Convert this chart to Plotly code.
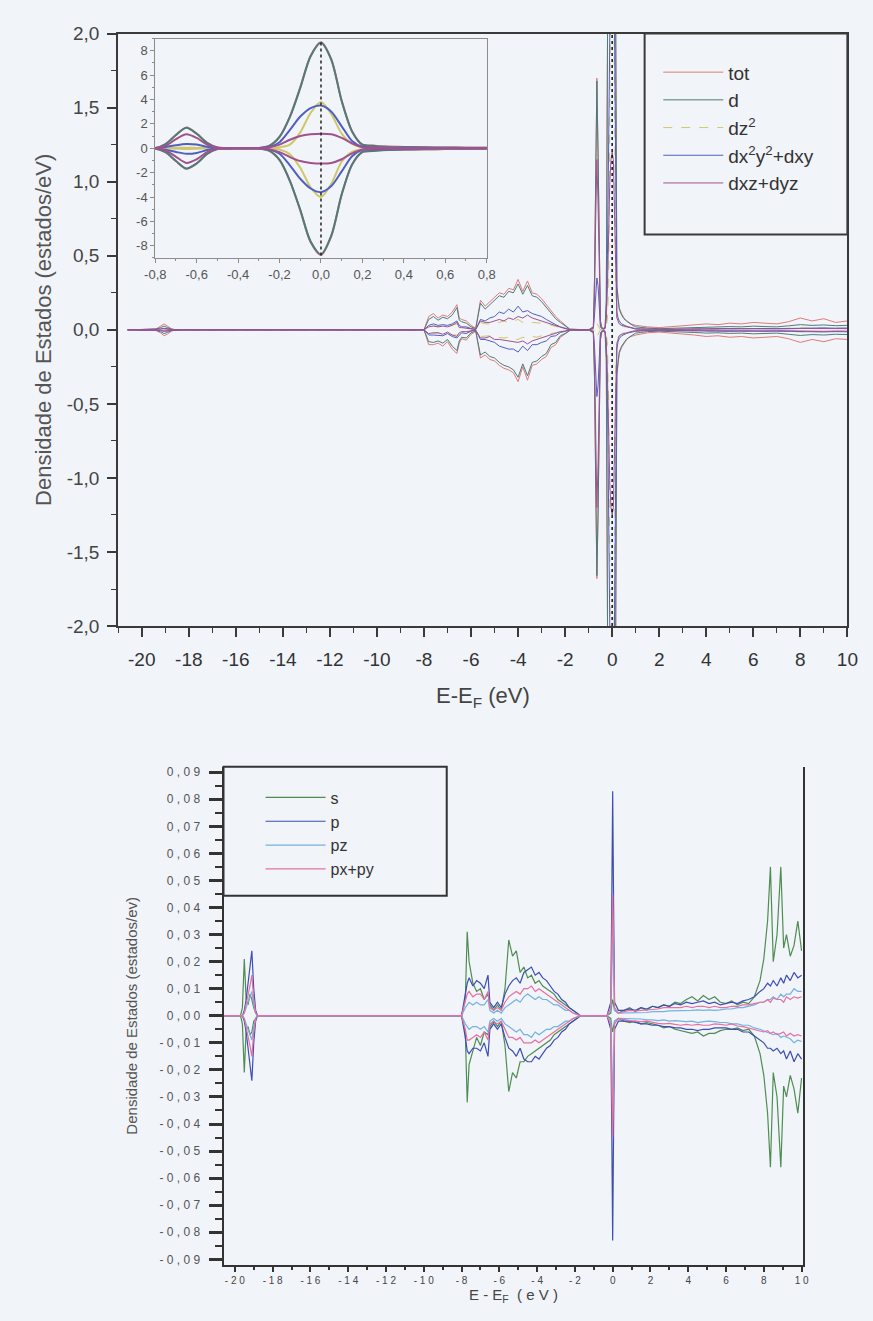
import plotly.graph_objects as go

# ---------------- TOP PANEL DATA (d-projected DOS, spin up > 0, spin down < 0) ----------------
E_top = [-20.6, -19.4, -19.2, -19.05, -18.9, -18.75, -18.6, -18.4, -8.0,
         -7.8, -7.6, -7.4, -7.2, -7.0, -6.8, -6.6, -6.5, -6.4, -6.2, -6.0, -5.8, -5.6, -5.4, -5.2, -5.0,
         -4.8, -4.6, -4.4, -4.2, -4.0, -3.8, -3.6, -3.4, -3.2, -3.0, -2.8, -2.6, -2.4, -2.2, -2.0, -1.8,
         -1.0, -0.8, -0.75, -0.7, -0.65, -0.6, -0.55, -0.5, -0.45, -0.4, -0.35, -0.3, -0.25, -0.2, -0.15,
         -0.1, -0.05, 0.0, 0.05, 0.1, 0.15, 0.2, 0.25, 0.3, 0.4, 0.5, 0.6, 0.7, 0.8,
         1.0, 1.2, 1.5, 2.0, 2.5, 3.0, 3.5, 4.0, 4.5, 5.0, 5.5, 6.0, 6.5, 7.0, 7.5, 8.0, 8.5, 9.0, 9.5, 10.0]

tot_up = [0, .005, .025, .04, .025, .008, .002, 0, 0,
          .09, .11, .08, .10, .09, .12, .17, .08, .07, .06, .03, .01, .20, .16, .19, .22, .25, .24, .28, .27, .34, .26, .33, .25, .24, .21, .17, .13, .09, .06, .03, .005,
          0, .02, .35, 1.1, 1.7, 1.2, .45, .06, .02, .01, .01, .02, .2, .95, 2.6, 5.0, 7.6, 8.7, 7.3, 3.9, 1.4, .3, .22, .15, .11, .08, .065, .05, .04,
          .03, .025, .02, .015, .02, .025, .03, .04, .035, .045, .04, .05, .045, .04, .055, .08, .06, .075, .05, .06]
tot_dn = [0, -.004, -.02, -.04, -.028, -.01, -.002, 0, 0,
          -.10, -.10, -.09, -.11, -.08, -.13, -.16, -.09, -.06, -.07, -.03, -.01, -.19, -.17, -.20, -.21, -.24, -.26, -.27, -.29, -.35, -.25, -.34, -.24, -.23, -.20, -.18, -.12, -.10, -.05, -.03, -.005,
          0, -.02, -.33, -1.05, -1.68, -1.25, -.47, -.07, -.02, -.01, -.01, -.02, -.21, -.98, -2.7, -5.1, -7.7, -8.75, -7.2, -3.8, -1.35, -.31, -.23, -.16, -.12, -.09, -.07, -.055, -.045,
          -.035, -.03, -.02, -.015, -.02, -.03, -.035, -.045, -.04, -.05, -.045, -.055, -.05, -.045, -.06, -.085, -.065, -.08, -.06, -.065]

d_up = [0, .003, .015, .025, .015, .005, .001, 0, 0,
        .07, .09, .065, .085, .075, .10, .15, .065, .055, .045, .02, .008, .18, .14, .17, .20, .23, .22, .26, .25, .31, .24, .30, .23, .22, .19, .15, .11, .075, .05, .025, .004,
        0, .02, .345, 1.09, 1.68, 1.19, .445, .06, .02, .01, .01, .02, .19, .93, 2.57, 4.95, 7.55, 8.65, 7.25, 3.87, 1.38, .29, .21, .14, .1, .075, .06, .047, .037,
        .02, .015, .012, .008, .01, .013, .016, .02, .018, .022, .02, .025, .022, .02, .027, .035, .03, .033, .028, .03]
d_dn = [0, -.003, -.013, -.025, -.017, -.006, -.001, 0, 0,
        -.08, -.085, -.075, -.09, -.065, -.11, -.14, -.075, -.05, -.055, -.02, -.008, -.17, -.15, -.18, -.19, -.22, -.24, -.25, -.27, -.32, -.23, -.31, -.22, -.21, -.18, -.16, -.10, -.085, -.04, -.025, -.004,
        0, -.02, -.325, -1.04, -1.66, -1.24, -.465, -.068, -.02, -.01, -.01, -.02, -.2, -.96, -2.67, -5.05, -7.65, -8.7, -7.15, -3.77, -1.33, -.3, -.22, -.15, -.11, -.085, -.065, -.052, -.042,
        -.022, -.018, -.012, -.009, -.011, -.015, -.018, -.022, -.02, -.024, -.022, -.027, -.024, -.022, -.03, -.038, -.032, -.035, -.03, -.032]

dz2_up = [0, 0, .002, .004, .002, .001, 0, 0, 0,
          .02, .03, .02, .03, .025, .03, .04, .02, .02, .015, .01, .003, .05, .04, .04, .05, .05, .06, .05, .06, .07, .05, .06, .05, .05, .045, .04, .03, .02, .015, .008, .001,
          0, 0, .01, .03, .05, .03, .01, 0, 0, 0, 0, 0, .02, .08, .3, 1.3, 2.9, 3.8, 2.8, 1.2, .35, .08, .05, .04, .03, .02, .02, .015, .012,
          .008, .006, .004, .003, .004, .005, .006, .008, .007, .009, .008, .01, .009, .008, .011, .013, .011, .012, .01, .011]
dz2_dn = [0, 0, -.002, -.004, -.002, -.001, 0, 0, 0,
          -.025, -.025, -.02, -.03, -.02, -.035, -.035, -.025, -.015, -.02, -.01, -.003, -.045, -.045, -.04, -.05, -.055, -.055, -.05, -.065, -.065, -.05, -.06, -.045, -.05, -.04, -.04, -.025, -.02, -.012, -.008, -.001,
          0, 0, -.01, -.03, -.05, -.03, -.01, 0, 0, 0, 0, 0, -.02, -.1, -.5, -1.6, -3.2, -4.0, -2.9, -1.1, -.3, -.08, -.05, -.04, -.03, -.02, -.02, -.015, -.012,
          -.009, -.007, -.004, -.003, -.004, -.006, -.007, -.009, -.008, -.01, -.009, -.011, -.01, -.009, -.012, -.014, -.012, -.013, -.011, -.012]

dx2_up = [0, .001, .006, .01, .006, .002, 0, 0, 0,
          .03, .04, .03, .035, .03, .04, .06, .03, .02, .02, .008, .003, .07, .06, .08, .09, .12, .11, .14, .12, .16, .12, .13, .11, .10, .09, .07, .05, .035, .02, .01, .002,
          0, .01, .1, .25, .35, .3, .12, .02, .01, .005, .005, .01, .1, .5, 1.5, 2.6, 3.3, 3.5, 3.0, 1.8, .6, .12, .08, .06, .04, .03, .025, .02, .015,
          .008, .006, .005, .003, .004, .005, .007, .008, .007, .009, .008, .01, .009, .008, .01, .014, .012, .013, .011, .012]
dx2_dn = [0, -.001, -.005, -.01, -.007, -.002, 0, 0, 0,
          -.035, -.035, -.035, -.04, -.025, -.045, -.055, -.035, -.02, -.025, -.008, -.003, -.065, -.065, -.075, -.085, -.11, -.12, -.13, -.13, -.15, -.11, -.14, -.10, -.10, -.085, -.075, -.045, -.04, -.018, -.01, -.002,
          0, -.01, -.12, -.3, -.45, -.38, -.15, -.02, -.01, -.005, -.005, -.01, -.1, -.45, -1.4, -2.5, -3.3, -3.6, -3.1, -1.9, -.65, -.13, -.08, -.06, -.04, -.03, -.025, -.02, -.015,
          -.009, -.007, -.005, -.003, -.004, -.006, -.008, -.009, -.008, -.01, -.009, -.011, -.01, -.009, -.011, -.015, -.013, -.014, -.012, -.013]

dxz_up = [0, .001, .005, .008, .005, .001, 0, 0, 0,
          .02, .025, .02, .025, .02, .03, .05, .015, .015, .01, .005, .002, .06, .05, .05, .06, .07, .06, .08, .07, .09, .08, .10, .08, .07, .06, .05, .035, .025, .015, .008, .001,
          0, .01, .2, .75, 1.15, .85, .3, .04, .01, .005, .005, .01, .08, .3, .7, 1.0, 1.15, 1.2, 1.15, .85, .4, .08, .06, .04, .03, .025, .02, .015, .012,
          .005, .004, .003, .002, .003, .004, .005, .006, .005, .006, .005, .007, .006, .005, .007, .009, .008, .009, .007, .008]
dxz_dn = [0, -.001, -.004, -.008, -.006, -.002, 0, 0, 0,
          -.025, -.02, -.02, -.03, -.015, -.035, -.045, -.02, -.012, -.012, -.005, -.002, -.055, -.055, -.045, -.065, -.065, -.07, -.075, -.075, -.085, -.075, -.095, -.075, -.065, -.055, -.045, -.03, -.025, -.012, -.008, -.001,
          0, -.01, -.18, -.7, -1.2, -.9, -.32, -.04, -.01, -.005, -.005, -.01, -.08, -.32, -.72, -1.05, -1.2, -1.25, -1.2, -.9, -.42, -.09, -.06, -.04, -.03, -.025, -.02, -.015, -.012,
          -.006, -.005, -.003, -.002, -.003, -.005, -.006, -.007, -.006, -.007, -.006, -.008, -.007, -.006, -.008, -.01, -.009, -.01, -.008, -.009]

top_names = ["tot", "d", "dz<sup>2</sup>", "dx<sup>2</sup>y<sup>2</sup>+dxy", "dxz+dyz"]
top_colors = ["#e07a7a", "#4f7b78", "#cfc86a", "#4f5fc4", "#a0528e"]
top_up = [tot_up, d_up, dz2_up, dx2_up, dxz_up]
top_dn = [tot_dn, d_dn, dz2_dn, dx2_dn, dxz_dn]

# ---------------- BOTTOM PANEL DATA (s / p projected DOS) ----------------
E_bot = [-20.6, -19.7, -19.6, -19.5, -19.4, -19.3, -19.2, -19.1, -19.0, -18.9, -18.8, -8.0,
         -7.8, -7.7, -7.6, -7.4, -7.2, -7.0, -6.8, -6.6, -6.5, -6.3, -6.1, -5.9, -5.7, -5.5, -5.3, -5.1,
         -4.9, -4.7, -4.5, -4.3, -4.1, -3.9, -3.7, -3.5, -3.3, -3.1, -2.9, -2.7, -2.5, -2.3, -2.1, -1.9, -1.7,
         -0.3, -0.1, -0.05, 0.0, 0.05, 0.1, 0.3,
         0.6, 0.9, 1.2, 1.5, 1.8, 2.1, 2.4, 2.7, 3.0, 3.3, 3.6, 3.9, 4.2, 4.5, 4.8, 5.1, 5.4, 5.7, 6.0, 6.3,
         6.6, 6.9, 7.2, 7.5, 7.8, 8.0, 8.2, 8.35, 8.5, 8.7, 8.9, 9.05, 9.2, 9.4, 9.6, 9.8, 10.0]

s_up = [0, 0, .003, .021, .006, .004, .008, .006, .003, .001, 0, 0,
        .006, .031, .02, .012, .009, .01, .006, .008, .004, .002, .004, .002, .01, .028, .022, .024, .016, .018, .014, .015, .012, .013, .011, .01, .009, .008, .006, .005, .004, .003, .002, .001, 0,
        0, .001, .004, .006, .004, .002, .001,
        .002, .003, .0015, .003, .002, .0035, .003, .004, .0035, .005, .0045, .006, .007, .0055, .0075, .006, .007, .005, .0045, .0055,
        .004, .005, .0045, .007, .013, .021, .035, .055, .02, .03, .055, .025, .03, .022, .026, .035, .024]
s_dn = [0, 0, -.003, -.021, -.005, -.004, -.007, -.006, -.002, -.001, 0, 0,
        -.006, -.032, -.018, -.013, -.008, -.011, -.006, -.007, -.004, -.002, -.004, -.002, -.011, -.028, -.021, -.023, -.017, -.017, -.015, -.014, -.013, -.012, -.011, -.01, -.009, -.007, -.006, -.005, -.004, -.003, -.002, -.001, 0,
        0, -.001, -.004, -.006, -.004, -.002, -.001,
        -.002, -.0025, -.002, -.003, -.0025, -.003, -.0035, -.0045, -.004, -.005, -.0055, -.006, -.0065, -.006, -.0075, -.0065, -.0065, -.0055, -.005, -.005,
        -.0045, -.0055, -.005, -.0075, -.014, -.022, -.036, -.056, -.021, -.03, -.056, -.026, -.03, -.022, -.027, -.036, -.023]

p_up = [0, 0, 0, .002, .006, .012, .019, .024, .01, .002, 0, 0,
        .008, .012, .014, .011, .013, .012, .01, .015, .005, .003, .005, .003, .008, .011, .013, .014, .012, .016, .017, .018, .015, .016, .014, .013, .011, .009, .008, .006, .005, .003, .002, .001, 0,
        0, .005, .04, .083, .04, .005, .002,
        .002, .0025, .002, .003, .0025, .0035, .003, .004, .0035, .0045, .004, .005, .0045, .005, .0055, .0045, .005, .004, .0045, .005,
        .0045, .0055, .006, .007, .009, .01, .012, .011, .013, .011, .014, .012, .015, .013, .016, .014, .015]
p_dn = [0, 0, 0, -.002, -.006, -.012, -.019, -.024, -.01, -.002, 0, 0,
        -.008, -.013, -.014, -.012, -.012, -.013, -.01, -.015, -.005, -.003, -.005, -.003, -.008, -.012, -.013, -.015, -.012, -.016, -.017, -.017, -.015, -.016, -.014, -.012, -.011, -.009, -.008, -.006, -.005, -.003, -.002, -.001, 0,
        0, -.005, -.04, -.083, -.04, -.005, -.002,
        -.002, -.002, -.0025, -.003, -.003, -.0035, -.0035, -.004, -.004, -.0045, -.0045, -.005, -.005, -.0055, -.005, -.005, -.0045, -.0045, -.0045, -.005,
        -.005, -.006, -.006, -.0075, -.009, -.01, -.012, -.012, -.013, -.012, -.014, -.013, -.016, -.013, -.017, -.014, -.016]

pz_up = [0, 0, 0, .001, .003, .005, .007, .009, .004, .001, 0, 0,
         .003, .004, .005, .004, .005, .004, .004, .006, .002, .001, .002, .001, .003, .004, .005, .006, .005, .007, .008, .007, .006, .007, .006, .006, .005, .004, .004, .003, .002, .002, .001, .0005, 0,
         0, .002, .015, .035, .015, .002, .001,
         .001, .001, .001, .0012, .0012, .0015, .0015, .0015, .0018, .0018, .002, .002, .002, .0022, .002, .0022, .002, .0022, .0025, .0025,
         .003, .003, .0035, .004, .005, .005, .006, .006, .007, .006, .008, .007, .008, .008, .01, .009, .009]
pz_dn = [0, 0, 0, -.001, -.003, -.005, -.007, -.009, -.004, -.001, 0, 0,
         -.003, -.004, -.005, -.004, -.004, -.005, -.004, -.006, -.002, -.001, -.002, -.001, -.003, -.004, -.005, -.006, -.005, -.007, -.007, -.008, -.006, -.007, -.006, -.005, -.005, -.004, -.004, -.003, -.002, -.002, -.001, -.0005, 0,
         0, -.002, -.015, -.035, -.015, -.002, -.001,
         -.001, -.001, -.0012, -.0012, -.0015, -.0015, -.0018, -.0015, -.002, -.0018, -.002, -.0022, -.002, -.0025, -.0022, -.002, -.0022, -.0025, -.0025, -.003,
         -.003, -.0035, -.0035, -.0045, -.005, -.0055, -.006, -.0065, -.007, -.0065, -.008, -.0075, -.008, -.0085, -.01, -.009, -.0095]

pxpy_up = [0, 0, 0, .001, .004, .007, .011, .015, .006, .001, 0, 0,
           .005, .008, .009, .007, .008, .008, .006, .009, .003, .002, .003, .002, .005, .007, .008, .009, .008, .01, .01, .011, .009, .01, .009, .008, .007, .006, .005, .004, .003, .002, .001, .0005, 0,
           0, .003, .025, .045, .025, .003, .001,
           .0015, .002, .0018, .002, .0022, .0025, .0025, .003, .003, .0032, .003, .0035, .003, .0035, .0035, .003, .0035, .003, .003, .0035,
           .0035, .004, .004, .0045, .005, .005, .006, .005, .0065, .006, .006, .005, .007, .006, .007, .0065, .007]
pxpy_dn = [0, 0, 0, -.001, -.004, -.007, -.011, -.015, -.006, -.001, 0, 0,
           -.005, -.009, -.009, -.008, -.007, -.008, -.006, -.009, -.003, -.002, -.003, -.002, -.005, -.008, -.008, -.009, -.008, -.01, -.01, -.01, -.009, -.01, -.009, -.008, -.007, -.006, -.005, -.004, -.003, -.002, -.001, -.0005, 0,
           0, -.003, -.025, -.045, -.025, -.003, -.001,
           -.0015, -.0018, -.002, -.0022, -.002, -.0025, -.0028, -.003, -.0028, -.0032, -.0035, -.0032, -.0035, -.0032, -.0035, -.0035, -.003, -.0032, -.0035, -.003,
           -.0038, -.004, -.0045, -.005, -.0055, -.006, -.0055, -.0065, -.006, -.007, -.0065, -.006, -.0075, -.0065, -.0075, -.007, -.0075]

bot_names = ["s", "p", "pz", "px+py"]
bot_colors = ["#4f8c52", "#3c4db4", "#72b2e4", "#e8709e"]
bot_up = [s_up, p_up, pz_up, pxpy_up]
bot_dn = [s_dn, p_dn, pz_dn, pxpy_dn]

for arr in top_up + top_dn:
    assert len(arr) == len(E_top), len(arr)
for arr in bot_up + bot_dn:
    assert len(arr) == len(E_bot), len(arr)

# ---------------- TICKS ----------------
x1_ticks = list(range(-20, 11, 2))
x1_labels = [str(v) for v in x1_ticks]
y1_ticks = [-2.0, -1.5, -1.0, -0.5, 0.0, 0.5, 1.0, 1.5, 2.0]
y1_labels = ["-2,0", "-1,5", "-1,0", "-0,5", "0,0", "0,5", "1,0", "1,5", "2,0"]
x2_ticks = [-0.8, -0.6, -0.4, -0.2, 0.0, 0.2, 0.4, 0.6, 0.8]
x2_labels = ["-0,8", "-0,6", "-0,4", "-0,2", "0,0", "0,2", "0,4", "0,6", "0,8"]
y2_ticks = [-8, -6, -4, -2, 0, 2, 4, 6, 8]
y2_labels = ["-8", "-6", "-4", "-2", "0", "2", "4", "6", "8"]
x3_ticks = list(range(-20, 11, 2))
x3_labels = ["- 2 0", "- 1 8", "- 1 6", "- 1 4", "- 1 2", "- 1 0", "- 8", "- 6", "- 4", "- 2",
             "0", "2", "4", "6", "8", "1 0"]
y3_ticks = [-0.09, -0.08, -0.07, -0.06, -0.05, -0.04, -0.03, -0.02, -0.01, 0.0,
            0.01, 0.02, 0.03, 0.04, 0.05, 0.06, 0.07, 0.08, 0.09]
y3_labels = ["- 0 , 0 9", "- 0 , 0 8", "- 0 , 0 7", "- 0 , 0 6", "- 0 , 0 5", "- 0 , 0 4",
             "- 0 , 0 3", "- 0 , 0 2", "- 0 , 0 1", "0 , 0 0", "0 , 0 1", "0 , 0 2", "0 , 0 3",
             "0 , 0 4", "0 , 0 5", "0 , 0 6", "0 , 0 7", "0 , 0 8", "0 , 0 9"]

FONT = "Liberation Sans, Arial, sans-serif"
BG = "#f1f4f9"
W, H = 873, 1321

def px(x):
    return x / W

def py(y):
    return 1 - y / H

fig = go.Figure()

# main top panel
for name, col, up, dn in zip(top_names, top_colors, top_up, top_dn):
    dash = "dash" if name.startswith("dz<") else "solid"
    fig.add_trace(go.Scatter(x=E_top, y=up, mode="lines", name=name, legend="legend",
                             legendgroup=name, line=dict(color=col, width=1, dash=dash),
                             xaxis="x", yaxis="y"))
    fig.add_trace(go.Scatter(x=E_top, y=dn, mode="lines", name=name, showlegend=False,
                             legendgroup=name, line=dict(color=col, width=1, dash=dash),
                             xaxis="x", yaxis="y"))

# inset (same data, zoomed near the Fermi level)
for name, col, up, dn in zip(top_names, top_colors, top_up, top_dn):
    for arr in (up, dn):
        fig.add_trace(go.Scatter(x=E_top, y=arr, mode="lines", showlegend=False,
                                 line=dict(color=col, width=2, shape="spline", smoothing=0.8),
                                 xaxis="x2", yaxis="y2"))

# bottom panel
for name, col, up, dn in zip(bot_names, bot_colors, bot_up, bot_dn):
    fig.add_trace(go.Scatter(x=E_bot, y=up, mode="lines", name=name, legend="legend2",
                             legendgroup=name, line=dict(color=col, width=1.2),
                             xaxis="x3", yaxis="y3"))
    fig.add_trace(go.Scatter(x=E_bot, y=dn, mode="lines", name=name, showlegend=False,
                             legendgroup=name, line=dict(color=col, width=1.2),
                             xaxis="x3", yaxis="y3"))

axis_common = dict(showgrid=False, zeroline=False, showline=True, ticks="outside", tickmode="array")

fig.update_layout(
    width=W, height=H, margin=dict(l=0, r=0, t=0, b=0),
    paper_bgcolor=BG, plot_bgcolor=BG,
    font=dict(family=FONT, color="#3a3a3a"),
    xaxis=dict(**axis_common, domain=[px(110), px(858)], anchor="y", range=[-21, 10],
               tickvals=x1_ticks, ticktext=x1_labels, linecolor="#3a3a3a", linewidth=2, mirror=True,
               ticklen=9, tickwidth=1.5, tickcolor="#3a3a3a", ticklabelstandoff=6,
               tickfont=dict(size=19, color="#333"),
               minor=dict(ticks="outside", ticklen=5, tickwidth=1.2, tickcolor="#3a3a3a", dtick=1, tick0=0)),
    yaxis=dict(**axis_common, domain=[py(626), py(24)], anchor="x", range=[-2, 2],
               tickvals=y1_ticks, ticktext=y1_labels, linecolor="#3a3a3a", linewidth=2, mirror=True,
               ticklen=9, tickwidth=1.5, tickcolor="#3a3a3a", ticklabelstandoff=4,
               tickfont=dict(size=19, color="#444"),
               minor=dict(ticks="outside", ticklen=5, tickwidth=1.2, tickcolor="#3a3a3a", dtick=0.25, tick0=0)),
    xaxis2=dict(**axis_common, domain=[px(148), px(488)], anchor="y2", range=[-0.8, 0.8],
                tickvals=x2_ticks, ticktext=x2_labels, linecolor="#8c8c8c", linewidth=1, mirror=True,
                ticklen=4, tickwidth=1, tickcolor="#8c8c8c", tickfont=dict(size=13, color="#555"),
                minor=dict(ticks="outside", ticklen=2, tickcolor="#8c8c8c", dtick=0.1, tick0=0)),
    yaxis2=dict(**axis_common, domain=[py(252), py(29)], anchor="x2", range=[-9, 9],
                tickvals=y2_ticks, ticktext=y2_labels, linecolor="#8c8c8c", linewidth=1, mirror=True,
                ticklen=4, tickwidth=1, tickcolor="#8c8c8c", tickfont=dict(size=13, color="#555"),
                minor=dict(ticks="outside", ticklen=2, tickcolor="#8c8c8c", dtick=1, tick0=0)),
    xaxis3=dict(**axis_common, domain=[px(218), px(812)], anchor="y3", range=[-20.6, 10.05],
                tickvals=x3_ticks, ticktext=x3_labels, linecolor="#333", linewidth=2,
                ticklen=5, tickwidth=1.5, tickcolor="#333", tickfont=dict(size=10, color="#444"),
                minor=dict(ticks="outside", ticklen=3, tickcolor="#333", dtick=1, tick0=0)),
    yaxis3=dict(**axis_common, domain=[py(1275), py(769)], anchor="x3", range=[-0.092, 0.092],
                tickvals=y3_ticks, ticktext=y3_labels, linecolor="#333", linewidth=2, mirror=True,
                ticklen=13, tickwidth=2.5, tickcolor="#333", ticklabelstandoff=6,
                tickfont=dict(size=12, color="#555"),
                minor=dict(ticks="outside", ticklen=7, tickwidth=2, tickcolor="#333", dtick=0.005, tick0=0)),
    legend=dict(x=px(664), y=py(44), xanchor="left", yanchor="top", bgcolor="rgba(0,0,0,0)",
                borderwidth=0, font=dict(size=19, color="#333"), itemwidth=60, tracegroupgap=0),
    legend2=dict(x=px(256), y=py(783), xanchor="left", yanchor="top", bgcolor="rgba(0,0,0,0)",
                 borderwidth=0, font=dict(size=16, color="#333"), itemwidth=60, tracegroupgap=0),
    shapes=[
        dict(type="rect", xref="paper", yref="paper", x0=px(650), x1=px(858), y0=py(228), y1=py(24),
             line=dict(color="#3a3a3a", width=2), fillcolor="rgba(0,0,0,0)", layer="above"),
        dict(type="line", xref="x", yref="y", x0=0, x1=0, y0=-2, y1=2,
             line=dict(color="#111", width=1.5, dash="dot"), layer="above"),
        dict(type="line", xref="x2", yref="y2", x0=0, x1=0, y0=-8.8, y1=8.8,
             line=dict(color="#222", width=1.5, dash="dot"), layer="above"),
        dict(type="rect", xref="paper", yref="paper", x0=px(218), x1=px(447), y0=py(900), y1=py(769),
             line=dict(color="#333", width=2), fillcolor="rgba(0,0,0,0)", layer="above"),
    ],
    annotations=[
        dict(text="Densidade de Estados (estados/eV)", xref="paper", yref="paper", x=px(34), y=py(325),
             textangle=-90, showarrow=False, font=dict(size=22, color="#555"), xanchor="center", yanchor="middle"),
        dict(text="E-E<sub>F</sub> (eV)", xref="paper", yref="paper", x=px(484), y=py(698),
             showarrow=False, font=dict(size=22, color="#444"), xanchor="center", yanchor="middle"),
        dict(text="Densidade de Estados (estados/ev)", xref="paper", yref="paper", x=px(124), y=py(1022),
             textangle=-90, showarrow=False, font=dict(size=15, color="#555"), xanchor="center", yanchor="middle"),
        dict(text="E - E<sub>F</sub>  ( e V )", xref="paper", yref="paper", x=px(515), y=py(1306),
             showarrow=False, font=dict(size=15, color="#444"), xanchor="center", yanchor="middle"),
    ],
)

fig.write_html("out.html")
